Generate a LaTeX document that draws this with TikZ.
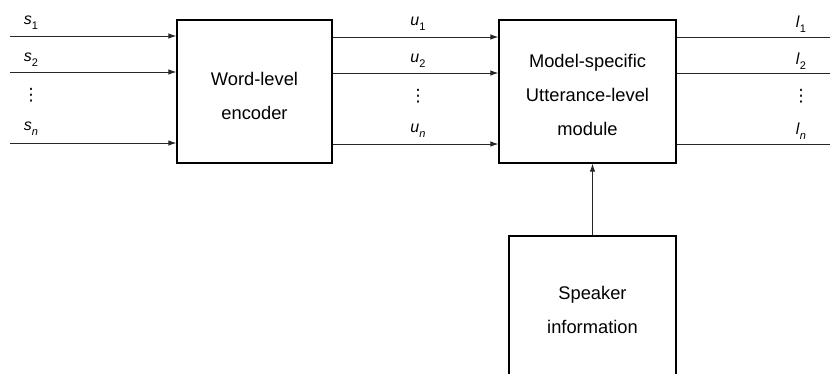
\documentclass[tikz,border=0pt]{standalone}
\usepackage{fontspec}
\setmainfont{Liberation Sans}
\newfontfamily\dotsfont{DejaVu Sans}
\usetikzlibrary{arrows.meta}
% italic symbol with a small subscript
\newcommand{\symsub}[2]{\textit{#1}\raisebox{-0.3em}{\fontsize{11}{11}\selectfont #2}}
\newcommand{\vdotsym}{{\dotsfont\fontsize{17}{17}\selectfont ⋮}}
\begin{document}
\begin{tikzpicture}[x=1pt,y=-1pt,
  block/.style={draw=black,line width=1.3pt,inner sep=0pt},
  blocktext/.style={inner sep=0pt,align=center,
    font=\fontsize{18.3}{34}\selectfont},
  flow/.style={draw=black!85,line width=0.9pt,-{Latex[length=8pt,width=5.5pt]}},
  plain/.style={draw=black!85,line width=0.9pt},
  lab/.style={inner sep=0pt,font=\fontsize{16}{16}\selectfont}]
\clip (0,0) rectangle (830,373);

% blocks
\node[block,minimum width=155pt,minimum height=143pt] (enc) at (254.5,91.5) {};
\node[blocktext] (enctext) at (254.5,95.5) {Word-level\\encoder};
\node[block,minimum width=177pt,minimum height=143pt] (mod) at (587.5,91.5) {};
\node[blocktext] (modtext) at (587.5,95) {Model-specific\\Utterance-level\\module};
\node[block,minimum width=167pt,minimum height=148pt] (spk) at (592.5,310) {};
\node[blocktext] (spktext) at (592.5,310) {Speaker\\information};

% input word sequences
\coordinate (in1) at (10,36);
\coordinate (in2) at (10,72);
\coordinate (inn) at (10,143);
\draw[flow] (in1) -- (in1 -| enc.west);
\draw[flow] (in2) -- (in2 -| enc.west);
\draw[flow] (inn) -- (inn -| enc.west);
\node[lab] (s1) at (31,23) {\symsub{s}{1}};
\node[lab] (s2) at (31,60) {\symsub{s}{2}};
\node[lab] (sd) at (31,95) {\vdotsym};
\node[lab] (sn) at (31,129) {\symsub{s}{\textit{n}}};

% utterance representations
\coordinate (u1a) at (enc.east |- 0,37);
\coordinate (u2a) at (enc.east |- 0,73);
\coordinate (una) at (enc.east |- 0,144);
\draw[flow] (u1a) -- (u1a -| mod.west);
\draw[flow] (u2a) -- (u2a -| mod.west);
\draw[flow] (una) -- (una -| mod.west);
\node[lab] (u1) at (418,24) {\symsub{u}{1}};
\node[lab] (u2) at (418,61) {\symsub{u}{2}};
\node[lab] (ud) at (418,96) {\vdotsym};
\node[lab] (un) at (418,131) {\symsub{u}{\textit{n}}};

% output labels
\coordinate (o1) at (830,37);
\coordinate (o2) at (830,73);
\coordinate (on) at (830,144);
\draw[plain] (o1 -| mod.east) -- (o1);
\draw[plain] (o2 -| mod.east) -- (o2);
\draw[plain] (on -| mod.east) -- (on);
\node[lab] (l1) at (801,24) {\symsub{l}{1}};
\node[lab] (l2) at (801,61) {\symsub{l}{2}};
\node[lab] (ld) at (801,96) {\vdotsym};
\node[lab] (ln) at (801,131) {\symsub{l}{\textit{n}}};

% speaker information feeds the utterance-level module
\draw[flow] (spk.north) -- (spk.north |- mod.south);
\end{tikzpicture}
\end{document}
